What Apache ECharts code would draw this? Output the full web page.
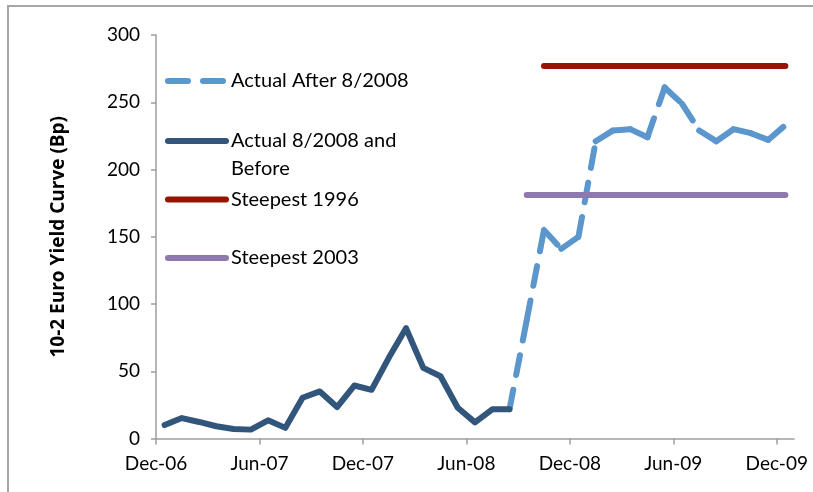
<!DOCTYPE html>
<html>
<head>
<meta charset="utf-8">
<title>10-2 Euro Yield Curve</title>
<script src="https://cdn.jsdelivr.net/npm/echarts@6/dist/echarts.min.js"></script>
<style>
  html, body { margin: 0; padding: 0; background: #fff; }
  #chart { width: 813px; height: 492px; }
</style>
</head>
<body>
<div id="chart"></div>
<script>
// Monthly observations, Dec-06 .. Dec-09
const months = [
  'Dec-06','Jan-07','Feb-07','Mar-07','Apr-07','May-07','Jun-07','Jul-07','Aug-07','Sep-07','Oct-07','Nov-07',
  'Dec-07','Jan-08','Feb-08','Mar-08','Apr-08','May-08','Jun-08','Jul-08','Aug-08','Sep-08','Oct-08','Nov-08',
  'Dec-08','Jan-09','Feb-09','Mar-09','Apr-09','May-09','Jun-09','Jul-09','Aug-09','Sep-09','Oct-09','Nov-09',
  'Dec-09'
];
// x-axis tick labels (every six months)
const tickLabels = ['Dec-06','Jun-07','Dec-07','Jun-08','Dec-08','Jun-09','Dec-09'];

// 10y - 2y spread in basis points, Dec-06 .. Aug-08
const beforeMonths = months.slice(0, 21);
const beforeValues = [10, 15.2, 12.3, 9.1, 7.1, 6.6, 13.5, 7.9, 30.3, 35, 23.4, 39.4, 36.2, 60, 82, 52.5, 46.3, 22.9, 12, 21.7, 21.7];

// Aug-08 .. Dec-09
const afterMonths = months.slice(20);
const afterValues = [21.7, 88, 155, 141, 150, 221, 229, 230, 224, 261, 249, 229, 221, 230, 227, 222, 233];

// Reference levels: steepest curves of 1996 and 2003
const steep1996Months = months.slice(22);
const steep1996Values = [277, 277, 277, 277, 277, 277, 277, 277, 277, 277, 277, 277, 277, 277, 277];
const steep2003Months = months.slice(21);
const steep2003Values = [181, 181, 181, 181, 181, 181, 181, 181, 181, 181, 181, 181, 181, 181, 181, 181];

const NAMES = {
  after: 'Actual After 8/2008',
  before: 'Actual 8/2008 and Before',
  s1996: 'Steepest 1996',
  s2003: 'Steepest 2003'
};
const COLORS = {
  after: '#5b96cc',
  before: '#31557b',
  s1996: '#961400',
  s2003: '#8e79ae'
};

// observations sit mid-month on a month-indexed axis
const mx = (label) => months.indexOf(label) + 0.5;
const pairs = (labels, values) => labels.map((m, i) => [mx(m), values[i]]);

const LW = 6;
const DASH = [20, 15];
const FONT = 'Lato, "Open Sans", sans-serif';

function solidSeries(key, labels, values) {
  return {
    name: NAMES[key],
    type: 'line',
    data: pairs(labels, values),
    symbol: 'none',
    lineStyle: { color: COLORS[key], width: LW, cap: 'round', join: 'round' },
    itemStyle: { color: COLORS[key] },
    silent: true
  };
}

// The dash pattern restarts at every data point, so each segment is its own path
const afterPts = pairs(afterMonths, afterValues);
const afterSeries = [];
for (let i = 0; i < afterPts.length - 1; i++) {
  afterSeries.push({
    name: NAMES.after,
    type: 'line',
    data: [afterPts[i], afterPts[i + 1]],
    symbol: 'none',
    lineStyle: { color: COLORS.after, width: LW, type: DASH, cap: 'round', join: 'round' },
    itemStyle: { color: COLORS.after },
    silent: true
  });
}

const legendBase = {
  orient: 'vertical',
  left: 165,
  padding: 0,
  itemWidth: 58,
  itemHeight: 14,
  selectedMode: false,
  itemStyle: { opacity: 0 },
  lineStyle: { width: LW, cap: 'round' },
  textStyle: { fontFamily: FONT, fontSize: 20, color: '#000', lineHeight: 28 }
};

const option = {
  animation: false,
  backgroundColor: '#fff',
  grid: { left: 156, right: 19, top: 35, bottom: 53.5, containLabel: false, outerBoundsMode: 'none' },
  xAxis: {
    type: 'value',
    min: 0,
    max: 37,
    interval: 6,
    splitLine: { show: false },
    axisLine: { show: true, lineStyle: { color: '#9e9e9e', width: 1.5 } },
    axisTick: { show: true, inside: false, length: 6, lineStyle: { color: '#9e9e9e', width: 1.5 },
                customValues: tickLabels.map((_, i) => i * 6) },
    axisLabel: {
      customValues: tickLabels.map((_, i) => i * 6),
      formatter: (v) => tickLabels[Math.round(v / 6)] || '',
      fontFamily: FONT, fontSize: 19, color: '#000', margin: 16
    }
  },
  yAxis: {
    type: 'value',
    min: 0,
    max: 300,
    interval: 50,
    name: '10-2 Euro Yield Curve (Bp)',
    nameLocation: 'middle',
    nameRotate: 90,
    nameGap: 88,
    nameTextStyle: { fontFamily: '"Open Sans", Lato, sans-serif', fontWeight: 'bold', fontSize: 19, color: '#000' },
    splitLine: { show: false },
    axisLine: { show: true, lineStyle: { color: '#9e9e9e', width: 1.5 } },
    axisTick: { show: true, inside: false, length: 5, lineStyle: { color: '#9e9e9e', width: 1.5 } },
    axisLabel: { fontFamily: FONT, fontSize: 19, color: '#000', margin: 16 }
  },
  legend: [
    Object.assign({}, legendBase, { top: 67, data: [NAMES.after] }),
    Object.assign({}, legendBase, {
      top: 99,
      data: [NAMES.before],
      // leading blank line keeps the key aligned with the first text line
      formatter: () => ' \nActual 8/2008 and\nBefore'
    }),
    Object.assign({}, legendBase, { top: 185.5, data: [NAMES.s1996] }),
    Object.assign({}, legendBase, { top: 244, data: [NAMES.s2003] })
  ],
  graphic: [{
    type: 'rect',
    silent: true,
    shape: { x: 8, y: 6, width: 900, height: 600 },
    style: { fill: 'none', stroke: '#a6a6a6', lineWidth: 2 }
  }],
  series: [
    ...afterSeries,
    solidSeries('before', beforeMonths, beforeValues),
    solidSeries('s1996', steep1996Months, steep1996Values),
    solidSeries('s2003', steep2003Months, steep2003Values)
  ]
};

const chart = echarts.init(document.getElementById('chart'), null, { renderer: 'canvas' });
chart.setOption(option);
</script>
</body>
</html>
